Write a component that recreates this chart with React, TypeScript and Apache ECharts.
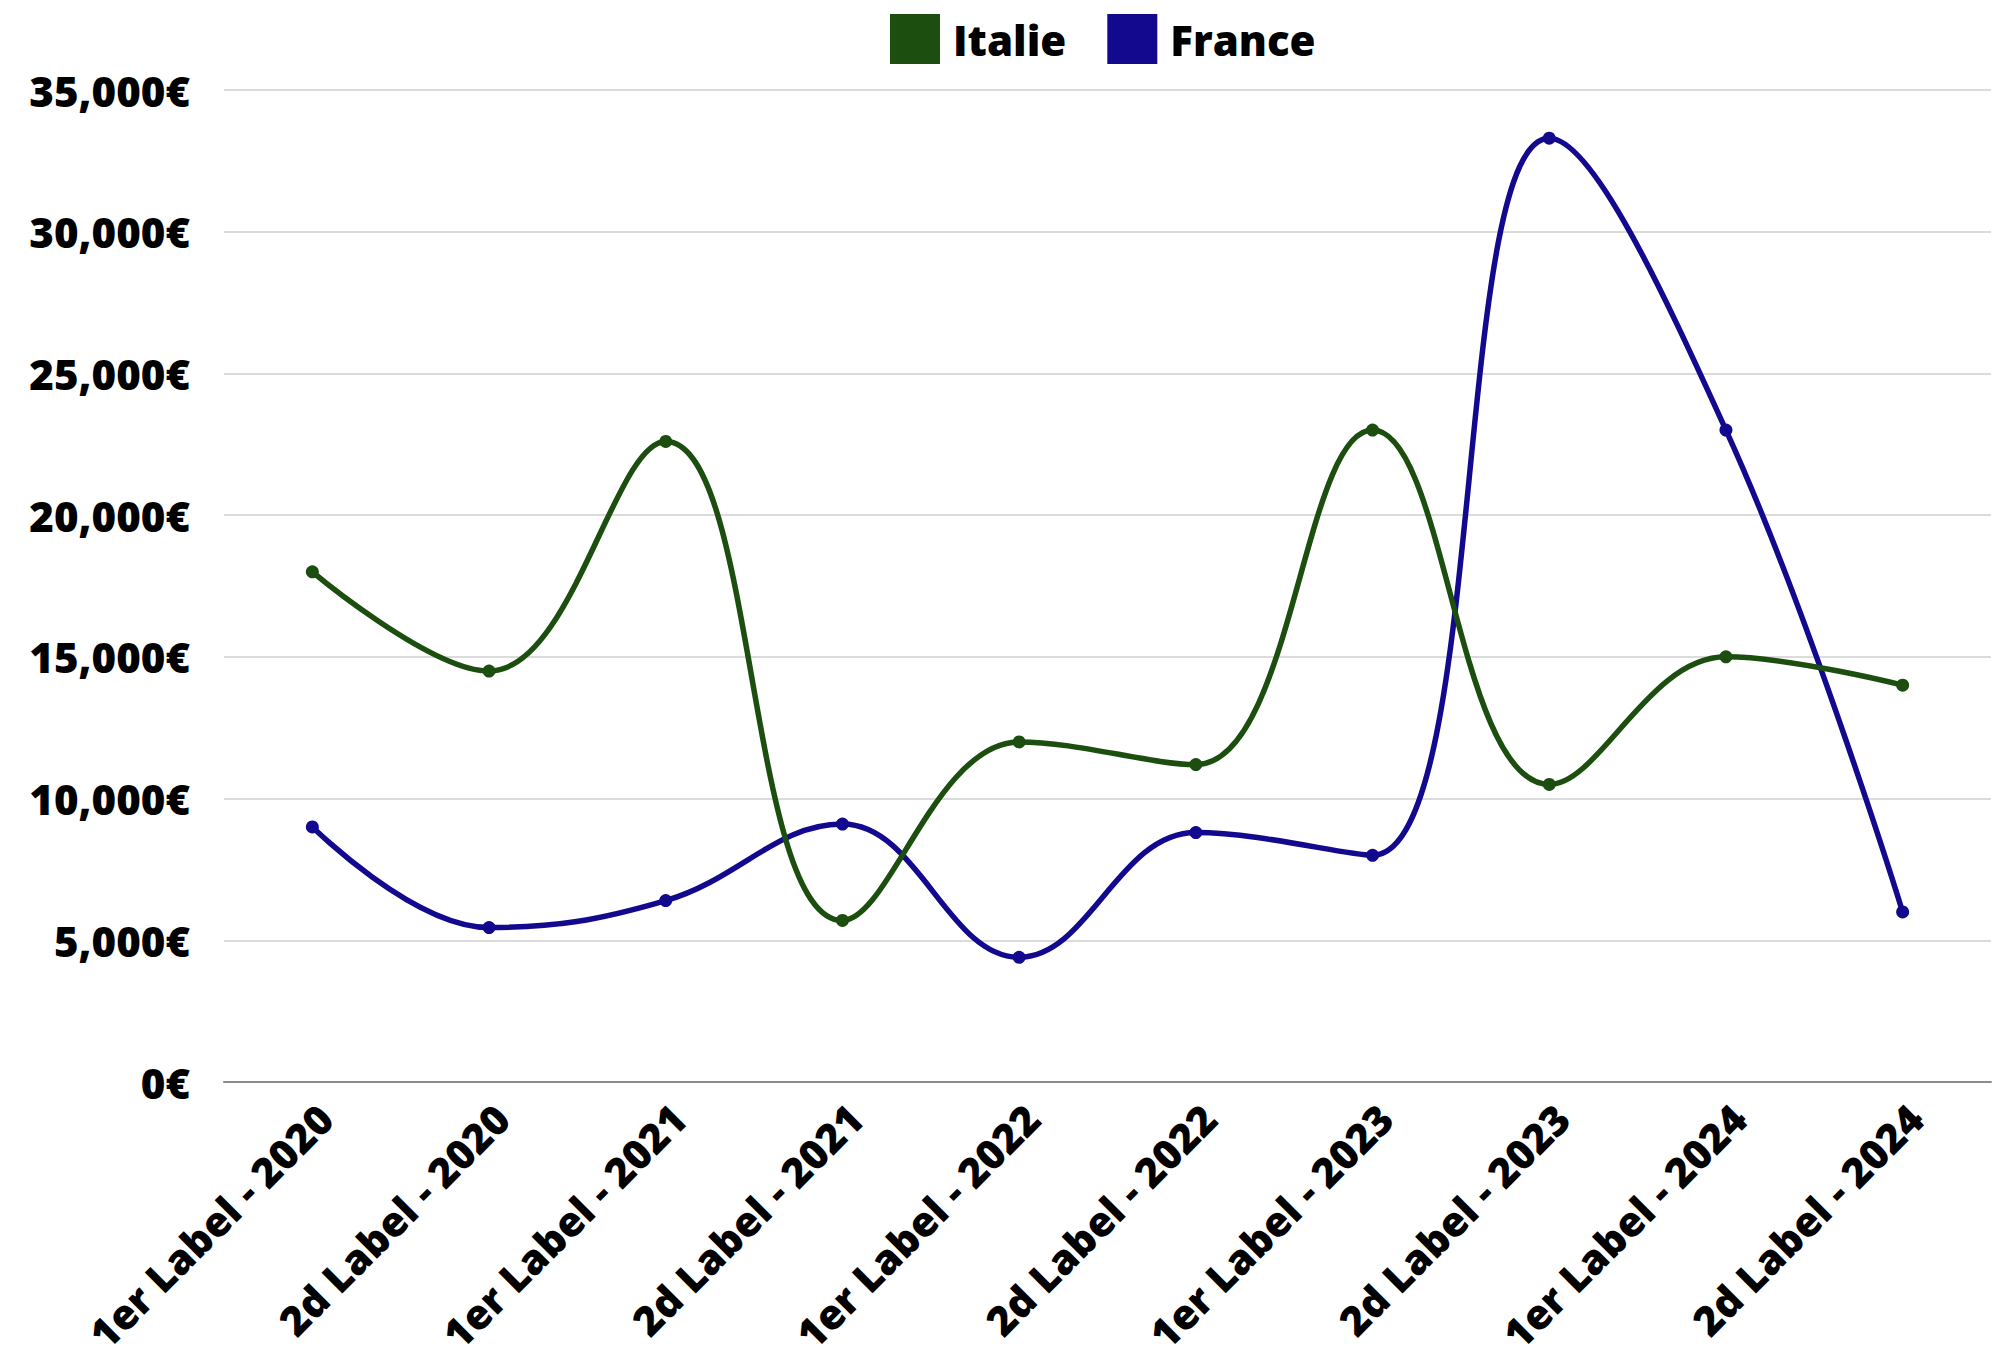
import React, { useEffect, useRef } from "react";
import * as echarts from "echarts";

const categories = [
  "1er Label - 2020",
  "2d Label - 2020",
  "1er Label - 2021",
  "2d Label - 2021",
  "1er Label - 2022",
  "2d Label - 2022",
  "1er Label - 2023",
  "2d Label - 2023",
  "1er Label - 2024",
  "2d Label - 2024",
];

const italie = [18000, 14500, 22600, 5700, 12000, 11200, 23000, 10500, 15000, 14000];
const france = [9000, 5450, 6400, 9100, 4400, 8800, 8000, 33300, 23000, 6000];

const seriesNames = ["Italie", "France"];
const yMin = 0;
const yMax = 35000;
const yInterval = 5000;

const GREEN = "#1c4e0f";
const BLUE = "#12098f";
const FONT = "'Open Sans', 'DejaVu Sans', sans-serif";

export default function App() {
  const ref = useRef<HTMLDivElement>(null);

  useEffect(() => {
    if (!ref.current) return;
    const chart = echarts.init(ref.current, null, { renderer: "svg" });
    chart.setOption({
      animation: false,
      backgroundColor: "#ffffff",
      legend: {
        left: 885,
        top: 9,
        icon: "rect",
        itemWidth: 50,
        itemHeight: 50,
        itemGap: 41,
        data: seriesNames,
        textStyle: {
          fontFamily: FONT,
          fontWeight: 800,
          fontSize: 42,
          color: "#000",
          padding: [0, 0, 0, 8],
        },
      },
      grid: {
        left: 224,
        right: 11,
        top: 90,
        bottom: 280,
        containLabel: false,
        outerBoundsMode: "none",
      },
      xAxis: {
        type: "category",
        data: categories,
        boundaryGap: true,
        axisLine: { show: true, lineStyle: { color: "#8a8a8a", width: 2 } },
        axisTick: { show: false },
        splitLine: { show: false },
        axisLabel: {
          rotate: 45,
          interval: 0,
          margin: 42,
          padding: [0, -18, 0, 0],
          lineHeight: 40,
          fontFamily: FONT,
          fontWeight: 800,
          fontSize: 41,
          color: "#000",
        },
      },
      yAxis: {
        type: "value",
        min: yMin,
        max: yMax,
        interval: yInterval,
        axisLine: { show: false },
        axisTick: { show: false },
        splitLine: { show: true, lineStyle: { color: "#cfcfcf", width: 1.5 } },
        axisLabel: {
          margin: 34,
          fontFamily: FONT,
          fontWeight: 800,
          fontSize: 42,
          color: "#000",
          formatter: (v: number) => v.toLocaleString("en-US") + "€",
        },
      },
      series: [
        {
          name: seriesNames[0],
          type: "line",
          data: italie,
          smooth: 0.4,
          symbol: "circle",
          symbolSize: 13,
          z: 3,
          lineStyle: { color: GREEN, width: 5.5 },
          itemStyle: { color: GREEN },
        },
        {
          name: seriesNames[1],
          type: "line",
          data: france,
          smooth: 0.4,
          symbol: "circle",
          symbolSize: 13,
          z: 2,
          lineStyle: { color: BLUE, width: 5.5 },
          itemStyle: { color: BLUE },
        },
      ],
    });
    return () => chart.dispose();
  }, []);

  return <div ref={ref} style={{ width: 2002, height: 1362, margin: -8 }} />;
}
